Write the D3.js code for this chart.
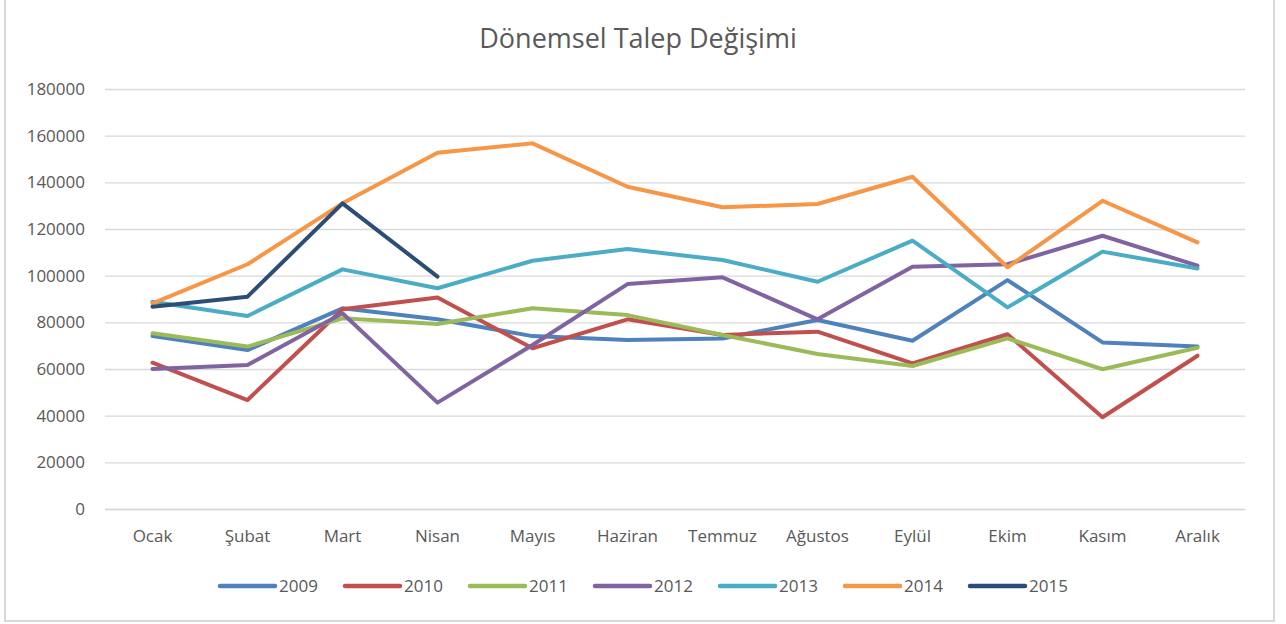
<!DOCTYPE html>
<html>
<head>
<meta charset="utf-8">
<script src="https://cdn.jsdelivr.net/npm/d3@7"></script>
<style>
  body { margin: 0; background: #fff; }
  svg text { font-family: "Open Sans", sans-serif; fill: #595959; }
</style>
</head>
<body>
<div class="svg-container"></div>
<script>
const months = ["Ocak", "Şubat", "Mart", "Nisan", "Mayıs", "Haziran", "Temmuz", "Ağustos", "Eylül", "Ekim", "Kasım", "Aralık"];
const years = ["2009", "2010", "2011", "2012", "2013", "2014", "2015"];
const yTicks = [0, 20000, 40000, 60000, 80000, 100000, 120000, 140000, 160000, 180000];

const s2009 = [74100, 68100, 86000, 81300, 74100, 72400, 73100, 81000, 72100, 98100, 71400, 69600];
const s2010 = [62700, 46700, 85600, 90600, 68900, 81300, 74600, 76000, 62400, 74900, 39300, 65700];
const s2011 = [75300, 69600, 81700, 79300, 86000, 83100, 74600, 66400, 61300, 73100, 59900, 69100];
const s2012 = [60000, 61700, 83900, 45600, 70300, 96400, 99300, 81300, 103800, 104900, 117100, 104300];
const s2013 = [88800, 82700, 102700, 94600, 106400, 111400, 106700, 97400, 115000, 86400, 110300, 103100];
const s2014 = [88100, 104900, 131000, 152700, 156700, 138100, 129300, 130700, 142400, 103600, 132100, 114300];
const s2015 = [86700, 91000, 131000, 99600, null, null, null, null, null, null, null, null];

const seriesValues = [s2009, s2010, s2011, s2012, s2013, s2014, s2015];
const colors = ["#4F81BD", "#C0504D", "#9BBB59", "#8064A2", "#4BACC6", "#F79646", "#2C4D75"];

const width = 1286, height = 624;
const margin = { left: 105, right: 41, top: 89, bottom: 115 };

const svg = d3.select("div.svg-container").append("svg")
    .attr("width", width)
    .attr("height", height);

// chart frame
svg.append("rect")
    .attr("x", 5).attr("y", -5)
    .attr("width", 1269).attr("height", 626)
    .attr("fill", "#fff")
    .attr("stroke", "#D9D9D9")
    .attr("stroke-width", 2);

svg.append("text")
    .attr("x", 638).attr("y", 48)
    .attr("text-anchor", "middle")
    .style("font-size", "27px")
    .text("Dönemsel Talep Değişimi");

const x = d3.scaleBand().domain(months).range([margin.left, width - margin.right]);
const y = d3.scaleLinear().domain([0, 180000]).range([height - margin.bottom, margin.top]);

// gridlines
const yAxis = d3.axisLeft(y).tickValues(yTicks).tickSize(-(width - margin.left - margin.right)).tickPadding(20).tickFormat(d3.format("d"));
const yAxisG = svg.append("g")
    .attr("transform", `translate(${margin.left},0)`)
    .call(yAxis);
yAxisG.select(".domain").remove();
yAxisG.selectAll(".tick line").attr("stroke", "#D9D9D9").attr("stroke-width", 1.3);
yAxisG.selectAll(".tick text").style("font-size", "17px").attr("fill", "#595959");

const xAxis = d3.axisBottom(x).tickSize(0).tickPadding(21);
const xAxisG = svg.append("g")
    .attr("transform", `translate(0,${height - margin.bottom})`)
    .call(xAxis);
xAxisG.select(".domain").attr("stroke", "#D9D9D9").attr("stroke-width", 1.5);
xAxisG.selectAll(".tick text").style("font-size", "17px").attr("fill", "#595959");

const line = d3.line()
    .defined(d => d != null)
    .x((d, i) => x(months[i]) + x.bandwidth() / 2)
    .y(d => y(d));

seriesValues.forEach((vals, k) => {
    svg.append("path")
        .datum(vals)
        .attr("fill", "none")
        .attr("stroke", colors[k])
        .attr("stroke-width", 4)
        .attr("stroke-linejoin", "round")
        .attr("stroke-linecap", "round")
        .attr("d", line);
});

// legend
const legend = svg.append("g").attr("transform", "translate(220,586)");
years.forEach((yr, k) => {
    const g = legend.append("g").attr("transform", `translate(${k * 125},0)`);
    g.append("line")
        .attr("x1", 0).attr("x2", 55)
        .attr("stroke", colors[k])
        .attr("stroke-width", 4.5)
        .attr("stroke-linecap", "round");
    g.append("text")
        .attr("x", 59).attr("y", 0)
        .attr("dy", "0.35em")
        .style("font-size", "17px")
        .text(yr);
});
</script>
</body>
</html>
